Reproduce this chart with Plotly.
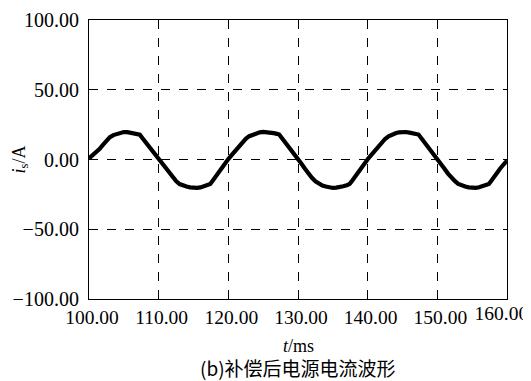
import plotly.graph_objects as go

# time (ms) and current i_s (A)
t_ms = [100.0, 100.5, 101.0, 101.5, 102.0, 102.5, 103.0, 103.5, 104.0, 104.5, 105.0, 105.5, 106.0, 106.5, 107.0, 107.3,
        107.6, 108.0, 108.5, 109.0, 109.5, 110.0, 110.5, 111.0, 111.5, 112.0, 112.5, 113.0, 113.5, 114.0, 114.5,
        115.0, 115.5, 116.0, 116.5, 117.0, 117.4, 117.7, 118.0, 118.5, 119.0, 119.5,
        120.0, 120.5, 121.0, 121.5, 122.0, 122.5, 123.0, 123.5, 124.0, 124.5, 125.0, 125.5, 126.0, 126.5, 127.0, 127.3,
        127.6, 128.0, 128.5, 129.0, 129.5, 130.0, 130.5, 131.0, 131.5, 132.0, 132.5, 133.0, 133.5, 134.0, 134.5,
        135.0, 135.5, 136.0, 136.5, 137.0, 137.4, 137.7, 138.0, 138.5, 139.0, 139.5,
        140.0, 140.5, 141.0, 141.5, 142.0, 142.5, 143.0, 143.5, 144.0, 144.5, 145.0, 145.5, 146.0, 146.5, 147.0, 147.3,
        147.6, 148.0, 148.5, 149.0, 149.5, 150.0, 150.5, 151.0, 151.5, 152.0, 152.5, 153.0, 153.5, 154.0, 154.5,
        155.0, 155.5, 156.0, 156.5, 157.0, 157.4, 157.7, 158.0, 158.5, 159.0, 159.5, 160.0]
i_s = [0.8, 2.8, 5.0, 7.5, 10.5, 13.5, 16.0, 17.5, 18.5, 19.3, 19.7, 19.6, 19.2, 18.8, 18.3, 17.8,
       15.8, 13.3, 10.0, 6.6, 3.5, 0.2, -3.0, -6.4, -9.8, -12.9, -15.5, -17.6, -18.7, -19.4, -20.0,
       -20.4, -20.3, -20.0, -19.3, -18.4, -17.6, -15.6, -13.4, -10.0, -6.6, -3.2,
       0.3, 3.3, 6.3, 9.3, 12.2, 14.8, 16.7, 17.9, 18.8, 19.5, 19.8, 19.7, 19.3, 18.9, 18.4, 17.9,
       15.9, 13.4, 10.1, 6.6, 3.4, 0.2, -3.1, -6.6, -10.1, -13.1, -15.6, -17.5, -18.7, -19.4, -20.0,
       -20.4, -20.2, -19.9, -19.2, -18.4, -17.6, -15.7, -13.5, -10.2, -6.6, -3.3,
       0.2, 3.2, 6.2, 9.2, 12.1, 14.7, 16.6, 17.9, 18.8, 19.5, 19.8, 19.7, 19.3, 18.9, 18.4, 17.9,
       16.0, 13.5, 10.0, 6.5, 3.5, 0.4, -3.0, -6.4, -9.9, -12.9, -15.4, -17.5, -18.7, -19.4, -20.0,
       -20.4, -20.3, -19.9, -19.2, -18.4, -17.6, -15.6, -13.3, -10.0, -6.6, -3.6, -0.8]

x_ticks = [100, 110, 120, 130, 140, 150, 160]
x_ticktext = ["100.00", "110.00", "120.00", "130.00", "140.00", "150.00", ""]
# the last label sits a little left of its tick in the reference so it fits the frame
last_tick_pos = [159.2]
last_tick_text = ["160.00"]
y_ticks = [-100, -50, 0, 50, 100]
y_ticktext = ["\u2212100.00", "\u221250.00", "0.00", "50.00", "100.00"]

fig = go.Figure()
fig.add_trace(go.Scatter(x=t_ms, y=i_s, mode="lines",
                         line=dict(color="black", width=4.2), showlegend=False))
fig.add_trace(go.Scatter(x=t_ms[-1:], y=i_s[-1:], xaxis="x2", mode="markers",
                         marker=dict(opacity=0), hoverinfo="skip", showlegend=False))

serif = "Liberation Serif, Times New Roman, serif"
# page body has an 8px default margin, so the figure is sized/offset to compensate
fig.update_layout(
    width=523, height=373,
    margin=dict(l=81, r=24, t=12, b=82),
    paper_bgcolor="white", plot_bgcolor="white",
    font=dict(family=serif, color="black", size=20),
    xaxis2=dict(overlaying="x", side="bottom", range=[100, 160],
                tickvals=last_tick_pos, ticktext=last_tick_text,
                showgrid=False, showline=False, zeroline=False, ticks="",
                automargin=False, ticklabeloverflow="allow",
                tickfont=dict(size=19.5, family=serif, color="black")),
)
fig.update_xaxes(selector=dict(anchor="y"))
fig.layout.xaxis.update(range=[100, 160], tickvals=x_ticks, ticktext=x_ticktext,
                        showline=True, linecolor="black", linewidth=1.2, mirror=True,
                        showgrid=True, gridcolor="black", griddash="dash", gridwidth=1,
                        zeroline=False, ticks="", automargin=False, ticklabelshift=3,
                        ticklabeloverflow="allow",
                        tickfont=dict(size=19.5, family=serif))
fig.update_yaxes(range=[-100, 100], tickvals=y_ticks, ticktext=y_ticktext,
                 showline=True, linecolor="black", linewidth=1.2, mirror=True,
                 showgrid=True, gridcolor="black", griddash="dash", gridwidth=1,
                 zeroline=False, ticks="", ticklabelstandoff=5, automargin=False,
                 ticklabeloverflow="allow",
                 tickfont=dict(size=20, family=serif))

fig.add_annotation(text="<i>t</i>/ms", xref="paper", yref="paper", x=0.5, y=-0.168,
                   showarrow=False, yanchor="middle", font=dict(size=18, family=serif))
fig.add_annotation(text="<i>i</i><sub>s</sub>/A", xref="paper", yref="paper", x=-0.165, y=0.5,
                   showarrow=False, textangle=-90, xanchor="center", yanchor="middle",
                   font=dict(size=18, family=serif))
fig.add_annotation(text="(b)补偿后电源电流波形", xref="paper", yref="paper", x=0.5, y=-0.246,
                   showarrow=False, yanchor="middle",
                   font=dict(size=19, family="Noto Sans CJK SC, sans-serif"))

fig.write_html("out.html")
